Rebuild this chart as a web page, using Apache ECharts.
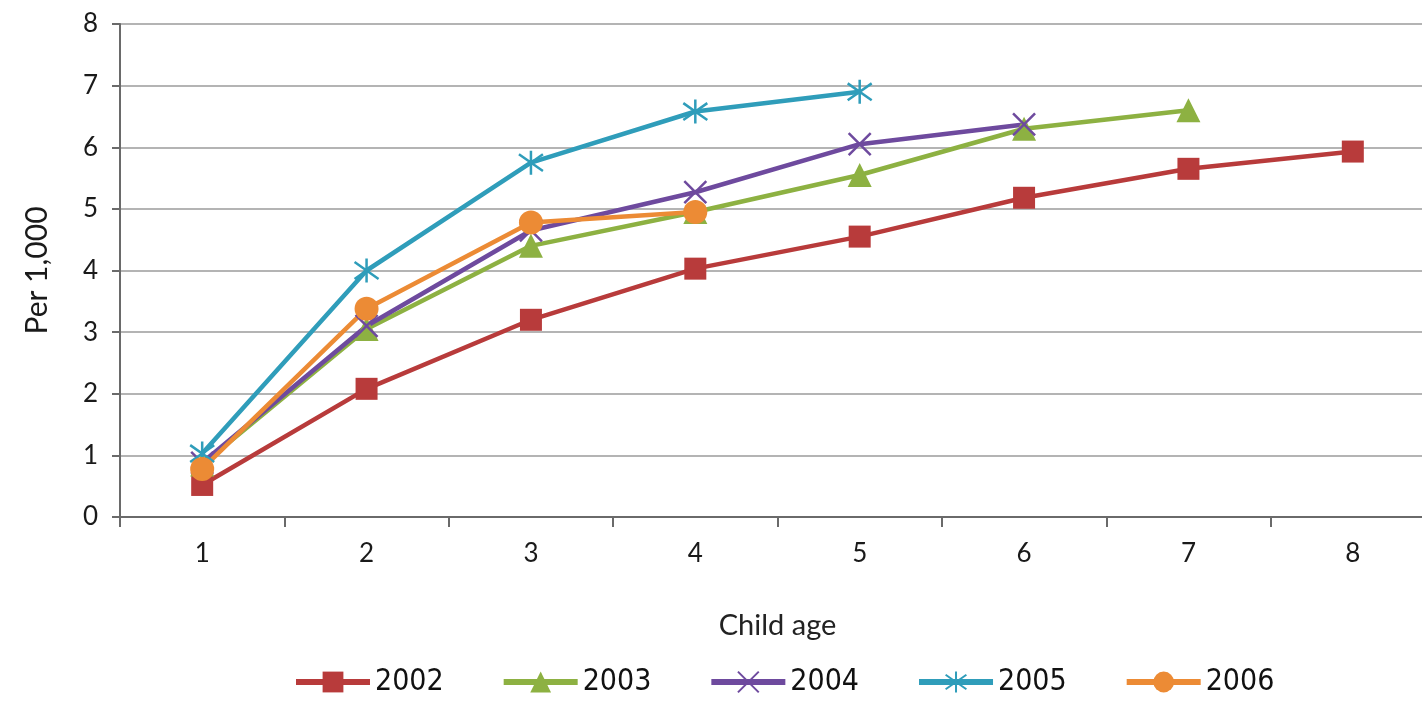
<!DOCTYPE html>
<html>
<head>
<meta charset="utf-8">
<script src="https://cdn.jsdelivr.net/npm/echarts@6/dist/echarts.min.js"></script>
<style>
html,body{margin:0;padding:0;background:#fff;overflow:hidden;width:1422px;height:706px;}
#chart{width:1435px;height:706px;}
</style>
</head>
<body>
<div id="chart"></div>
<script>
const categories = ['1','2','3','4','5','6','7','8'];
const yTicks = [0,1,2,3,4,5,6,7,8];
const s2002 = [0.52, 2.08, 3.2, 4.03, 4.55, 5.18, 5.65, 5.93];
const s2003 = [0.85, 3.05, 4.4, 4.95, 5.55, 6.3, 6.6];
const s2004 = [0.88, 3.1, 4.65, 5.27, 6.05, 6.37];
const s2005 = [1.03, 4.0, 5.75, 6.58, 6.9];
const s2006 = [0.78, 3.38, 4.78, 4.95];
const seriesNames = ['2002','2003','2004','2005','2006'];
const colors = ['#B83B3B','#8DB142','#6E4A9E','#2F9DBA','#EC8B35'];

const xPath = 'path://M1,1L9,9M9,1L1,9';
const starPath = 'path://M1.5,1.5L8.5,8.5M8.5,1.5L1.5,8.5M5,0L5,10';

function mk(name, data, color, symbol, size, stroke) {
  return {
    name: name, type: 'line', data: data,
    symbol: symbol, symbolSize: size,
    lineStyle: {color: color, width: 4.5},
    itemStyle: stroke ? {color: color, borderColor: color, borderWidth: 2.5} : {color: color},
    emphasis: {disabled: true},
    animation: false
  };
}

const chart = echarts.init(document.getElementById('chart'));
chart.setOption({
  backgroundColor: '#fff',
  color: colors,
  grid: {left: 120, right: 0, top: 24, bottom: 189, containLabel: false},
  xAxis: {
    type: 'category', data: categories, boundaryGap: true,
    name: 'Child age', nameLocation: 'middle', nameGap: 94,
    nameTextStyle: {fontFamily: 'Lato', fontSize: 29, color: '#222'},
    axisLine: {lineStyle: {color: '#6a6a6a', width: 2}},
    axisTick: {show: true, length: 10, interval: 0, lineStyle: {color: '#6a6a6a', width: 2}},
    axisLabel: {fontFamily: 'Lato', fontSize: 26, color: '#1a1a1a', margin: 24, interval: 0},
    splitLine: {show: false}
  },
  yAxis: {
    type: 'value', min: 0, max: 8, interval: 1,
    name: 'Per 1,000', nameLocation: 'middle', nameGap: 68,
    nameTextStyle: {fontFamily: 'Lato', fontSize: 30, color: '#1a1a1a'},
    axisLine: {show: true, lineStyle: {color: '#6a6a6a', width: 2}},
    axisTick: {show: true, length: 8, lineStyle: {color: '#6a6a6a', width: 2}},
    axisLabel: {fontFamily: 'Lato', fontSize: 26, color: '#1a1a1a', margin: 22,
      formatter: v => yTicks.includes(v) ? String(v) : ''},
    splitLine: {lineStyle: {color: '#b4b4b4', width: 2}}
  },
  legend: {
    bottom: 4, left: 288, itemGap: 57, itemWidth: 74, itemHeight: 26,
    lineStyle: {width: 6},
    textStyle: {fontFamily: '"DejaVu Sans Condensed", "Liberation Sans", sans-serif', fontSize: 30, color: '#111'},
    data: seriesNames
  },
  series: [
    mk('2002', s2002, colors[0], 'rect', 22, false),
    mk('2003', s2003, colors[1], 'triangle', 24, false),
    mk('2004', s2004, colors[2], xPath, 22, true),
    mk('2005', s2005, colors[3], starPath, 24, true),
    mk('2006', s2006, colors[4], 'circle', 24, false)
  ]
});
</script>
</body>
</html>
